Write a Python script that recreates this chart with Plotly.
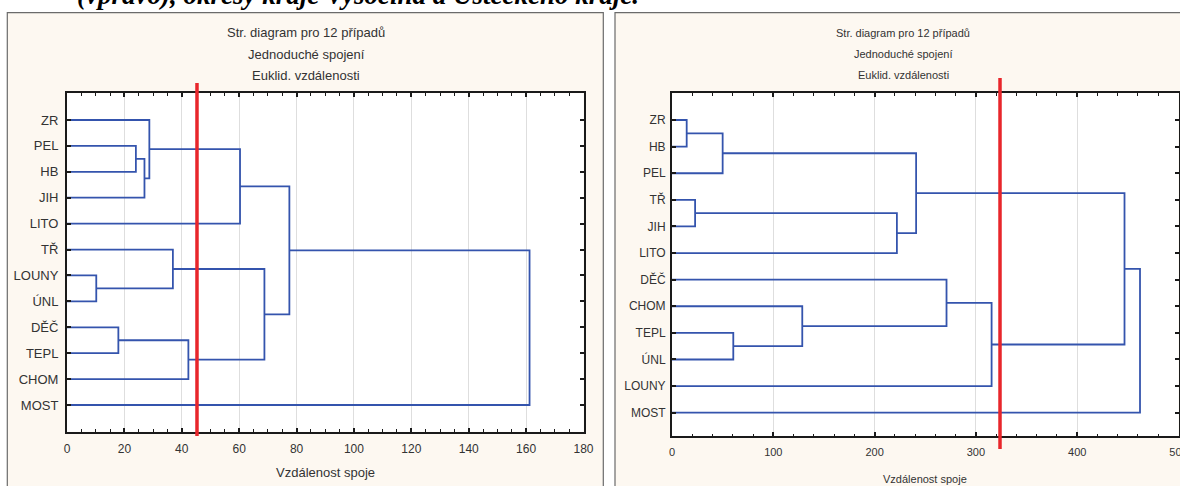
import plotly.graph_objects as go

# ---------------- data ----------------
left_leaves = ["ZR", "PEL", "HB", "JIH", "LITO", "TŘ", "LOUNY", "ÚNL", "DĚČ", "TEPL", "CHOM", "MOST"]
# merges: (child_a, child_b, linkage distance); children >= 12 refer to earlier merges
left_merge_a = [1, 12, 0, 14, 6, 5, 8, 18, 17, 15, 21]
left_merge_b = [2, 3, 13, 4, 7, 16, 9, 10, 19, 20, 11]
left_merge_h = [24.0, 27.0, 28.7, 60.3, 10.2, 36.9, 17.9, 42.3, 68.8, 77.5, 161.2]
left_cut = 45.3

right_leaves = ["ZR", "HB", "PEL", "TŘ", "JIH", "LITO", "DĚČ", "CHOM", "TEPL", "ÚNL", "LOUNY", "MOST"]
right_merge_a = [0, 12, 3, 14, 13, 8, 7, 6, 19, 16, 21]
right_merge_b = [1, 2, 4, 5, 15, 9, 17, 18, 10, 20, 11]
right_merge_h = [14.5, 50.0, 22.8, 222.0, 241.0, 60.5, 128.6, 271.0, 315.5, 446.7, 462.0]
right_cut = 323.8

left_xticks = list(range(0, 181, 20))
right_xticks = list(range(0, 501, 100))

title_lines = ["Str. diagram pro 12 případů", "Jednoduché spojení", "Euklid. vzdálenosti"]
axis_title = "Vzdálenost spoje"
caption = "(vpravo), okresy kraje Vysočina a Ústeckého kraje."

# ---------------- helpers ----------------
W, H = 1180, 486
def px(x):
    return x / W
def py(y):
    return 1 - y / H

def dendro(n, ma, mb, mh):
    pos = {i: float(i) for i in range(n)}
    hgt = {i: 0.0 for i in range(n)}
    xs, ys = [], []
    for k, (a, b, h) in enumerate(zip(ma, mb, mh)):
        xs += [hgt[a], h, h, hgt[b], None]
        ys += [pos[a], pos[a], pos[b], pos[b], None]
        pos[n + k] = (pos[a] + pos[b]) / 2
        hgt[n + k] = h
    return xs, ys

LINE = "#3454ad"
TXT = "#333333"
FONT = "Liberation Sans, Arial, sans-serif"

fig = go.Figure()
lx, ly = dendro(len(left_leaves), left_merge_a, left_merge_b, left_merge_h)
rx, ry = dendro(len(right_leaves), right_merge_a, right_merge_b, right_merge_h)
fig.add_trace(go.Scatter(x=lx, y=ly, mode="lines", line=dict(color=LINE, width=1.8),
                         xaxis="x", yaxis="y", showlegend=False, hoverinfo="skip"))
fig.add_trace(go.Scatter(x=rx, y=ry, mode="lines", line=dict(color=LINE, width=1.8),
                         xaxis="x2", yaxis="y2", showlegend=False, hoverinfo="skip"))

def xaxis(domain, rng, ticks, minor, size, anchor):
    return dict(domain=domain, range=rng, tickvals=ticks, ticks="inside", ticklen=4,
                tickwidth=1.5, tickcolor="#1a1a1a", showline=True, linecolor="#1a1a1a",
                linewidth=2, mirror="allticks", showgrid=True, gridcolor="#dedede",
                gridwidth=1, zeroline=False, tickfont=dict(family=FONT, size=size, color=TXT),
                minor=dict(dtick=minor, ticks="inside", ticklen=2.5, tickcolor="#1a1a1a",
                           tickwidth=1.2, showgrid=False),
                ticklabelstandoff=5, ticklabeloverflow="allow",
                automargin=False, anchor=anchor, fixedrange=True)

def yaxis(domain, rng, leaves, anchor, size, standoff):
    return dict(domain=domain, range=rng, tickvals=list(range(len(leaves))), ticktext=leaves,
                ticks="inside", ticklen=4, tickwidth=2, tickcolor="#1a1a1a",
                showline=True, linecolor="#1a1a1a", linewidth=2, mirror="allticks",
                showgrid=False, zeroline=False, anchor=anchor, automargin=False,
                ticklabelstandoff=standoff,
                tickfont=dict(family=FONT, size=size, color=TXT), fixedrange=True)

fig.update_layout(
    width=W, height=H,
    margin=dict(l=0, r=0, t=0, b=0, autoexpand=False),
    paper_bgcolor="#fdf8f1",
    plot_bgcolor="#ffffff",
    xaxis=xaxis([px(67), px(583.5)], [0, 180], left_xticks, 5, 12, "y"),
    yaxis=yaxis([py(431.7), py(93.3)], [12.03, -1.03], left_leaves, "x", 13, 4),
    xaxis2=xaxis([px(672), px(1178.5)], [0, 500], right_xticks, 20, 11, "y2"),
    yaxis2=yaxis([py(436), py(93.3)], [11.876, -1.004], right_leaves, "x2", 12, 2),
)

shapes = [
    # white surroundings of the two panels
    dict(type="rect", xref="paper", yref="paper", x0=0, x1=1, y0=py(12.7), y1=1.01,
         fillcolor="white", line=dict(width=0), layer="below"),
    dict(type="rect", xref="paper", yref="paper", x0=-0.01, x1=px(7), y0=-0.01, y1=1.01,
         fillcolor="white", line=dict(width=0), layer="below"),
    dict(type="rect", xref="paper", yref="paper", x0=px(603.3), x1=px(615), y0=-0.01, y1=1.01,
         fillcolor="white", line=dict(width=0), layer="below"),
    # panel frames
    dict(type="rect", xref="paper", yref="paper", x0=px(7.3), x1=px(603.3), y0=-0.05, y1=py(12.7),
         line=dict(color="#6b6b6b", width=1.2), layer="below"),
    dict(type="rect", xref="paper", yref="paper", x0=px(615), x1=1.05, y0=-0.05, y1=py(12.7),
         line=dict(color="#6b6b6b", width=1.2), layer="below"),
    # cut lines
    dict(type="line", xref="x", yref="paper", x0=left_cut, x1=left_cut, y0=py(436), y1=py(83),
         line=dict(color="#e8262b", width=3.5)),
    dict(type="line", xref="x2", yref="paper", x0=right_cut, x1=right_cut, y0=py(449), y1=py(78),
         line=dict(color="#e8262b", width=3.5)),
]
fig.update_layout(shapes=shapes)

ann = []
for i, t in enumerate(title_lines):
    ann.append(dict(text=t, x=px(306), y=py(33 + 21 * i), xref="paper", yref="paper",
                    showarrow=False, font=dict(family=FONT, size=13, color=TXT),
                    xanchor="center", yanchor="middle"))
    ann.append(dict(text=t, x=px(903), y=py(33 + 21 * i), xref="paper", yref="paper",
                    showarrow=False, font=dict(family=FONT, size=11, color=TXT),
                    xanchor="center", yanchor="middle"))
ann.append(dict(text=axis_title, x=px(325), y=py(472), xref="paper", yref="paper",
                showarrow=False, font=dict(family=FONT, size=13, color=TXT),
                xanchor="center", yanchor="middle"))
ann.append(dict(text=axis_title, x=px(925), y=py(479), xref="paper", yref="paper",
                showarrow=False, font=dict(family=FONT, size=11, color=TXT),
                xanchor="center", yanchor="middle"))
ann.append(dict(text="<b><i>" + caption + "</i></b>", x=px(358), y=py(-5.5), xref="paper",
                yref="paper", showarrow=False,
                font=dict(family="Liberation Serif, Times New Roman, serif", size=27, color="#000"),
                xanchor="center", yanchor="middle"))
fig.update_layout(annotations=ann)

fig.write_html("out.html", config={"displayModeBar": False},
               post_script="document.body.style.margin='0';document.body.style.overflow='hidden';")
